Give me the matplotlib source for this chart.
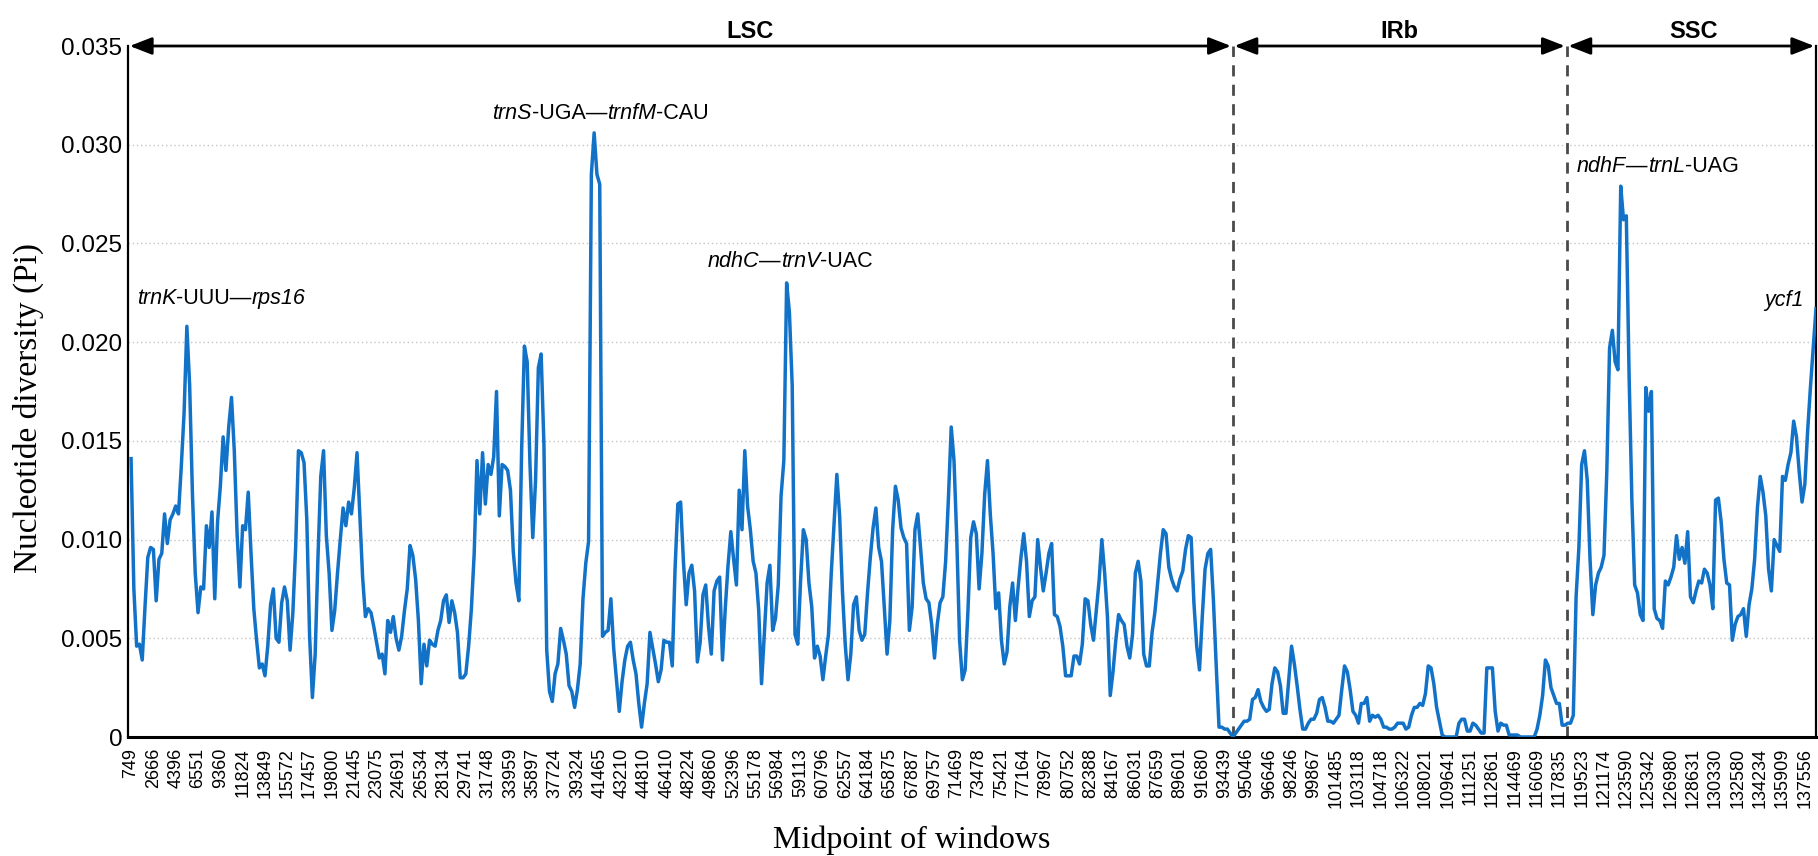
import matplotlib
matplotlib.use("Agg")
import matplotlib.pyplot as plt
from matplotlib.offsetbox import TextArea, HPacker, AnnotationBbox
import numpy as np

# Nucleotide diversity (Pi) per sliding window, in window order
pi_values = [
    0.0141, 0.0075, 0.0046, 0.0047, 0.0039, 0.0066, 0.0091, 0.0096, 0.0095, 0.0069,
    0.0090, 0.0093, 0.0113, 0.0098, 0.0110, 0.0113, 0.0117, 0.0113, 0.0137, 0.0164,
    0.0208, 0.0178, 0.0123, 0.0083, 0.0063, 0.0076, 0.0075, 0.0107, 0.0096, 0.0114,
    0.0070, 0.0109, 0.0127, 0.0152, 0.0135, 0.0157, 0.0172, 0.0145, 0.0103, 0.0076,
    0.0107, 0.0105, 0.0124, 0.0093, 0.0065, 0.0049, 0.0035, 0.0037, 0.0031, 0.0046,
    0.0067, 0.0075, 0.0050, 0.0048, 0.0068, 0.0076, 0.0069, 0.0044, 0.0063, 0.0096,
    0.0145, 0.0144, 0.0139, 0.0110, 0.0051, 0.0020, 0.0042, 0.0091, 0.0132, 0.0145,
    0.0102, 0.0083, 0.0054, 0.0064, 0.0083, 0.0100, 0.0116, 0.0107, 0.0119, 0.0113,
    0.0126, 0.0144, 0.0112, 0.0081, 0.0061, 0.0065, 0.0063, 0.0056, 0.0048, 0.0040,
    0.0042, 0.0032, 0.0059, 0.0053, 0.0061, 0.0050, 0.0044, 0.0051, 0.0064, 0.0075,
    0.0097, 0.0092, 0.0080, 0.0059, 0.0027, 0.0047, 0.0036, 0.0049, 0.0047, 0.0046,
    0.0054, 0.0059, 0.0069, 0.0072, 0.0058, 0.0069, 0.0063, 0.0053, 0.0030, 0.0030,
    0.0032, 0.0046, 0.0065, 0.0093, 0.0140, 0.0113, 0.0144, 0.0118, 0.0138, 0.0133,
    0.0142, 0.0175, 0.0112, 0.0138, 0.0137, 0.0135, 0.0125, 0.0094, 0.0078, 0.0069,
    0.0145, 0.0198, 0.0190, 0.0138, 0.0101, 0.0130, 0.0187, 0.0194, 0.0148, 0.0044,
    0.0023, 0.0018, 0.0032, 0.0037, 0.0055, 0.0049, 0.0042, 0.0026, 0.0023, 0.0015,
    0.0024, 0.0037, 0.0070, 0.0088, 0.0099, 0.0285, 0.0306, 0.0285, 0.0280, 0.0051,
    0.0053, 0.0054, 0.0070, 0.0045, 0.0029, 0.0013, 0.0028, 0.0039, 0.0046, 0.0048,
    0.0039, 0.0032, 0.0017, 0.0005, 0.0017, 0.0027, 0.0053, 0.0045, 0.0037, 0.0028,
    0.0034, 0.0049, 0.0048, 0.0048, 0.0036, 0.0085, 0.0118, 0.0119, 0.0089, 0.0067,
    0.0083, 0.0087, 0.0074, 0.0038, 0.0048, 0.0072, 0.0077, 0.0056, 0.0042, 0.0074,
    0.0079, 0.0081, 0.0039, 0.0065, 0.0087, 0.0104, 0.0090, 0.0077, 0.0125, 0.0105,
    0.0145, 0.0117, 0.0105, 0.0089, 0.0083, 0.0064, 0.0027, 0.0052, 0.0078, 0.0087,
    0.0054, 0.0060, 0.0077, 0.0122, 0.0140, 0.0230, 0.0215, 0.0178, 0.0052, 0.0047,
    0.0079, 0.0105, 0.0100, 0.0078, 0.0066, 0.0040, 0.0046, 0.0041, 0.0029, 0.0041,
    0.0052, 0.0083, 0.0108, 0.0133, 0.0112, 0.0074, 0.0047, 0.0029, 0.0042, 0.0067,
    0.0071, 0.0054, 0.0049, 0.0052, 0.0073, 0.0091, 0.0106, 0.0116, 0.0096, 0.0089,
    0.0066, 0.0042, 0.0059, 0.0105, 0.0127, 0.0120, 0.0106, 0.0101, 0.0098, 0.0054,
    0.0066, 0.0105, 0.0113, 0.0096, 0.0078, 0.0070, 0.0068, 0.0057, 0.0040, 0.0057,
    0.0068, 0.0071, 0.0089, 0.0121, 0.0157, 0.0140, 0.0100, 0.0049, 0.0029, 0.0034,
    0.0064, 0.0101, 0.0109, 0.0103, 0.0075, 0.0093, 0.0123, 0.0140, 0.0113, 0.0093,
    0.0065, 0.0073, 0.0049, 0.0037, 0.0043, 0.0066, 0.0078, 0.0059, 0.0076, 0.0091,
    0.0103, 0.0089, 0.0061, 0.0069, 0.0071, 0.0100, 0.0086, 0.0074, 0.0083, 0.0093,
    0.0098, 0.0062, 0.0061, 0.0056, 0.0046, 0.0031, 0.0031, 0.0031, 0.0041, 0.0041,
    0.0037, 0.0047, 0.0070, 0.0069, 0.0057, 0.0049, 0.0064, 0.0079, 0.0100, 0.0083,
    0.0061, 0.0021, 0.0033, 0.0049, 0.0062, 0.0059, 0.0057, 0.0046, 0.0040, 0.0052,
    0.0083, 0.0089, 0.0079, 0.0042, 0.0036, 0.0036, 0.0053, 0.0063, 0.0078, 0.0093,
    0.0105, 0.0103, 0.0086, 0.0080, 0.0076, 0.0074, 0.0080, 0.0084, 0.0095, 0.0102,
    0.0101, 0.0068, 0.0046, 0.0034, 0.0061, 0.0085, 0.0093, 0.0095, 0.0069, 0.0036,
    0.0005, 0.0005, 0.0004, 0.0004, 0.0002, 0.0000, 0.0002, 0.0004, 0.0006, 0.0008,
    0.0008, 0.0009, 0.0019, 0.0020, 0.0024, 0.0018, 0.0015, 0.0013, 0.0014, 0.0027,
    0.0035, 0.0033, 0.0026, 0.0012, 0.0012, 0.0029, 0.0046, 0.0037, 0.0026, 0.0014,
    0.0004, 0.0004, 0.0007, 0.0009, 0.0009, 0.0012, 0.0019, 0.0020, 0.0015, 0.0008,
    0.0008, 0.0007, 0.0009, 0.0011, 0.0024, 0.0036, 0.0033, 0.0024, 0.0013, 0.0011,
    0.0007, 0.0017, 0.0017, 0.0020, 0.0008, 0.0011, 0.0010, 0.0011, 0.0009, 0.0005,
    0.0005, 0.0004, 0.0004, 0.0005, 0.0007, 0.0007, 0.0007, 0.0004, 0.0005, 0.0011,
    0.0015, 0.0015, 0.0017, 0.0016, 0.0022, 0.0036, 0.0035, 0.0027, 0.0015, 0.0008,
    0.0001, 0.0000, 0.0000, 0.0000, 0.0000, 0.0000, 0.0007, 0.0009, 0.0009, 0.0003,
    0.0003, 0.0007, 0.0006, 0.0004, 0.0002, 0.0002, 0.0035, 0.0035, 0.0035, 0.0013,
    0.0003, 0.0007, 0.0006, 0.0006, 0.0001, 0.0001, 0.0001, 0.0001, 0.0000, 0.0000,
    0.0000, 0.0000, 0.0000, 0.0000, 0.0004, 0.0011, 0.0021, 0.0039, 0.0036, 0.0025,
    0.0021, 0.0017, 0.0017, 0.0006, 0.0006, 0.0007, 0.0007, 0.0011, 0.0071, 0.0096,
    0.0138, 0.0145, 0.0130, 0.0090, 0.0062, 0.0077, 0.0083, 0.0086, 0.0092, 0.0134,
    0.0197, 0.0206, 0.0190, 0.0186, 0.0279, 0.0262, 0.0264, 0.0183, 0.0120, 0.0077,
    0.0073, 0.0062, 0.0059, 0.0177, 0.0165, 0.0175, 0.0065, 0.0060, 0.0059, 0.0055,
    0.0079, 0.0077, 0.0081, 0.0086, 0.0102, 0.0090, 0.0096, 0.0088, 0.0104, 0.0071,
    0.0068, 0.0074, 0.0079, 0.0078, 0.0085, 0.0083, 0.0077, 0.0065, 0.0120, 0.0121,
    0.0109, 0.0090, 0.0078, 0.0077, 0.0049, 0.0057, 0.0061, 0.0062, 0.0065, 0.0051,
    0.0067, 0.0075, 0.0090, 0.0116, 0.0132, 0.0124, 0.0112, 0.0085, 0.0074, 0.0100,
    0.0097, 0.0094, 0.0132, 0.0130, 0.0138, 0.0144, 0.0160, 0.0152, 0.0134, 0.0119,
    0.0128, 0.0155, 0.0177, 0.0197, 0.0217,
]

# Window midpoints shown on the x axis (one label every 8 windows)
midpoint_labels = [
    "749", "2666", "4396", "6551", "9360", "11824", "13849", "15572", "17457", "19800",
    "21445", "23075", "24691", "26534", "28134", "29741", "31748", "33959", "35897", "37724",
    "39324", "41465", "43210", "44810", "46410", "48224", "49860", "52396", "55178", "56984",
    "59113", "60796", "62557", "64184", "65875", "67887", "69757", "71469", "73478", "75421",
    "77164", "78967", "80752", "82388", "84167", "86031", "87659", "89601", "91680", "93439",
    "95046", "96646", "98246", "99867", "101485", "103118", "104718", "106322", "108021", "109641",
    "111251", "112861", "114469", "116069", "117835", "119523", "121174", "123590", "125342", "126980",
    "128631", "130330", "132580", "134234", "135909", "137556",
]
label_step = 8

# Region boundaries (window index) and names
region_names = ["LSC", "IRb", "SSC"]
region_edges = [-1.1, 394.9, 514.6, 604.0]
region_label_pos = [222, 454.8, 560]

# Hypervariable regions: pieces as (text, italic), window index, Pi baseline, anchor side
hotspots = [
    ([("trnK", True), ("-UUU\u2014", False), ("rps16", True)], 2, 0.0219, "left"),
    ([("trnS", True), ("-UGA\u2014", False), ("trnfM", True), ("-CAU", False)], 129.4, 0.0313, "left"),
    ([("ndhC", True), ("\u2014", False), ("trnV", True), ("-UAC", False)], 206.8, 0.0238, "left"),
    ([("ndhF", True), ("\u2014", False), ("trnL", True), ("-UAG", False)], 518.3, 0.0286, "left"),
    ([("ycf1", True)], 599.5, 0.0218, "right"),
]

plt.rcParams["font.family"] = ["Liberation Sans", "DejaVu Sans"]

fig = plt.figure(figsize=(18.18, 8.56), dpi=100)
ax = fig.add_axes([128 / 1818, 119 / 856, 1688 / 1818, 691 / 856])

x = np.arange(len(pi_values))
ax.plot(x, pi_values, color="#1172c8", lw=2.5, solid_joinstyle="round", zorder=3)

ax.set_xlim(region_edges[0], region_edges[-1])
ax.set_ylim(0, 0.035)

yt = np.arange(0, 0.0351, 0.005)
ax.set_yticks(yt)
ax.set_yticklabels(["0"] + [f"{v:.3f}" for v in yt[1:]], fontsize=17.5)
for v in yt[1:-1]:
    ax.axhline(v, color="#c4c4c4", lw=1.0, ls=(0, (1, 2)), zorder=1)

ax.set_xticks(np.arange(len(midpoint_labels)) * label_step)
ax.set_xticklabels(midpoint_labels, rotation=90, fontsize=13)
ax.tick_params(axis="both", length=0)
ax.tick_params(axis="x", pad=8)
ax.tick_params(axis="y", pad=4)

for side in ["left", "right", "bottom"]:
    ax.spines[side].set_linewidth(1.6)
    ax.spines[side].set_color("black")
ax.spines["bottom"].set_linewidth(2.2)
ax.spines["top"].set_visible(False)

# Region boundaries
for b in region_edges[1:-1]:
    ax.plot([b, b], [0, 0.035], color="#4a4a4a", lw=2.0, ls=(0, (4, 3)), zorder=2)

# Region arrows along the top
for name, a, b, lx in zip(region_names, region_edges[:-1], region_edges[1:], region_label_pos):
    ax.annotate("", xy=(b - 0.6, 0.035), xytext=(a + 0.6, 0.035),
                arrowprops=dict(arrowstyle="<|-|>,head_length=0.9,head_width=0.35",
                                color="black", lw=2.0, shrinkA=0, shrinkB=0,
                                mutation_scale=15),
                annotation_clip=False)
    ax.text(lx, 0.0354, name, ha="center", va="baseline", fontsize=17,
            fontweight="bold", family=["Liberation Sans Narrow", "Liberation Sans"])

# Gene labels with italic gene names and upright suffixes
label_size = 15.5
for pieces, hx, hy, side in hotspots:
    areas = [TextArea(t, textprops=dict(fontsize=label_size,
                                        fontstyle="italic" if it else "normal",
                                        color="black"))
             for t, it in pieces]
    pack = HPacker(children=areas, align="baseline", pad=0, sep=0)
    ab = AnnotationBbox(pack, (hx, hy), xycoords="data",
                        xybox=(0, -0.21 * label_size), boxcoords="offset points",
                        box_alignment=(0 if side == "left" else 1, 0),
                        frameon=False, pad=0, zorder=4)
    ax.add_artist(ab)

ax.set_ylabel("Nucleotide diversity (Pi)", fontsize=24, family="Liberation Serif")
ax.yaxis.set_label_coords(-0.050, 0.476)
ax.set_xlabel("Midpoint of windows", fontsize=23, family="Liberation Serif")
ax.xaxis.set_label_coords(0.464, -0.128)

fig.savefig("out.png", dpi=100)
